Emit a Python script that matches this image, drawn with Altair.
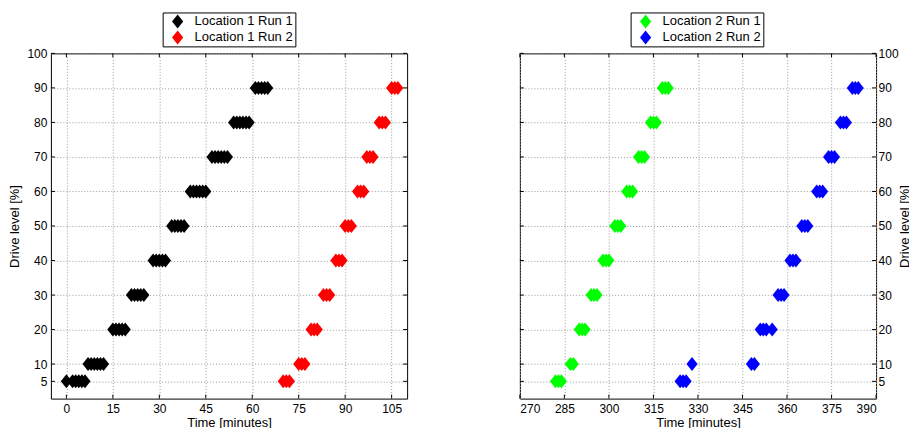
import altair as alt
import pandas as pd

LEVELS = [5, 10, 20, 30, 40, 50, 60, 70, 80, 90]
Y_TICKS = [5, 10, 20, 30, 40, 50, 60, 70, 80, 90, 100]
X_TICKS_LEFT = [0, 15, 30, 45, 60, 75, 90, 105]
X_TICKS_RIGHT = [270, 285, 300, 315, 330, 345, 360, 375, 390]

# Times (minutes) at which each drive level was logged, one list per level
LOC1_RUN1 = [
    [0, 2, 3, 4, 5, 6],
    [7, 8, 9, 10, 11, 12],
    [15, 16, 17, 18, 19],
    [21, 22, 23, 24, 25],
    [28, 29, 30, 31, 32],
    [34, 35, 36, 37, 38],
    [40, 41, 42, 43, 44, 45],
    [47, 48, 49, 50, 51, 52],
    [54, 55, 56, 57, 58, 59],
    [61, 62, 63, 64, 65],
]
LOC1_RUN2 = [
    [70, 71, 72],
    [75, 76, 77],
    [79, 80, 81],
    [83, 84, 85],
    [87, 88, 89],
    [90, 91, 92],
    [94, 95, 96],
    [97, 98, 99],
    [101, 102, 103],
    [105, 106, 107],
]
LOC2_RUN1 = [
    [282, 283, 284],
    [287, 288],
    [290, 291, 292],
    [294, 295, 296],
    [298, 299, 300],
    [302, 303, 304],
    [306, 307, 308],
    [310, 311, 312],
    [314, 315, 316],
    [318, 319, 320],
]
LOC2_RUN2 = [
    [324, 325, 326],
    [328, 348, 349],
    [351, 352, 353, 355],
    [357, 358, 359],
    [361, 362, 363],
    [365, 366, 367],
    [370, 371, 372],
    [374, 375, 376],
    [378, 379, 380],
    [382, 383, 384],
]

NAMES_1 = ["Location 1 Run 1", "Location 1 Run 2"]
NAMES_2 = ["Location 2 Run 1", "Location 2 Run 2"]
COLORS_1 = ["#000000", "#ff0000"]
COLORS_2 = ["#00ff00", "#0000ff"]

FONT = "Liberation Sans"
DIAMOND = "M-0.8,0L0,-1L0.8,0L0,1Z"
W, H = 357, 346
TICK = 4


def to_rows(series_name, times_by_level):
    rows = []
    for lvl, times in zip(LEVELS, times_by_level):
        for t in times:
            rows.append({"series": series_name, "time": t, "level": lvl})
    return rows


df1 = pd.DataFrame(to_rows(NAMES_1[0], LOC1_RUN1) + to_rows(NAMES_1[1], LOC1_RUN2))
df2 = pd.DataFrame(to_rows(NAMES_2[0], LOC2_RUN1) + to_rows(NAMES_2[1], LOC2_RUN2))


def panel(df, names, colors, xdom, xticks, yorient, legend_x):
    xscale = alt.Scale(domain=xdom, nice=False, zero=False)
    yscale = alt.Scale(domain=[0, 100], nice=False, zero=False)
    yaxis_kw = dict(
        values=Y_TICKS, orient=yorient, title="Drive level [%]", grid=True,
        ticks=False, tickSize=0, domain=False,
        labelPadding=4 if yorient == "left" else 2,
        titlePadding=5 if yorient == "left" else 0,
    )
    if yorient == "right":
        yaxis_kw["titleAngle"] = 270
        yaxis_kw["titleBaseline"] = "top"
    xaxis = alt.Axis(values=xticks, title="Time [minutes]", grid=True, ticks=False,
                     tickSize=0, domain=False, labelPadding=5, titlePadding=2, format="d")
    yaxis = alt.Axis(**yaxis_kw)
    pts = alt.Chart(df).mark_point(
        filled=True, shape=DIAMOND, size=196, opacity=1, strokeWidth=0
    ).encode(
        x=alt.X("time:Q", scale=xscale, axis=xaxis),
        y=alt.Y("level:Q", scale=yscale, axis=yaxis),
        color=alt.Color("series:N", scale=alt.Scale(domain=names, range=colors),
                        legend=alt.Legend(
                            title=None, orient="none", legendX=legend_x, legendY=-41,
                            direction="vertical", symbolType=DIAMOND, symbolSize=196,
                            labelFont=FONT, labelFontSize=13, labelColor="black",
                            strokeColor="black", fillColor="white", padding=2,
                            rowPadding=2, symbolOffset=6, labelOffset=10,
                            symbolStrokeWidth=0)),
    )
    xt = pd.DataFrame({"time": xticks})
    yt = pd.DataFrame({"level": Y_TICKS})
    xb = alt.Chart(xt).mark_rule(color="black").encode(
        x=alt.X("time:Q", scale=xscale, axis=xaxis), y=alt.value(H), y2=alt.value(H - TICK))
    xtop = alt.Chart(xt).mark_rule(color="black").encode(
        x=alt.X("time:Q", scale=xscale, axis=xaxis), y=alt.value(0), y2=alt.value(TICK))
    yl = alt.Chart(yt).mark_rule(color="black").encode(
        y=alt.Y("level:Q", scale=yscale, axis=yaxis), x=alt.value(0), x2=alt.value(TICK))
    yr = alt.Chart(yt).mark_rule(color="black").encode(
        y=alt.Y("level:Q", scale=yscale, axis=yaxis), x=alt.value(W - TICK), x2=alt.value(W))
    return alt.layer(pts, xb, xtop, yl, yr).properties(width=W, height=H)


left = panel(df1, NAMES_1, COLORS_1, [-5, 110], X_TICKS_LEFT, "left", 112)
right = panel(df2, NAMES_2, COLORS_2, [270, 390], X_TICKS_RIGHT, "right", 111)

chart = alt.hconcat(left, right, spacing=113, bounds="flush").resolve_scale(
    color="independent"
).resolve_legend(color="independent").properties(
    padding={"left": 0, "top": 3, "right": -3, "bottom": 0}
).configure_view(
    stroke="black", strokeWidth=1
).configure_axis(
    labelFont=FONT, labelFontSize=12, labelColor="black",
    titleFont=FONT, titleFontSize=13, titleFontWeight="normal", titleColor="black",
    gridColor="#9a9a9a", gridDash=[1, 2], gridWidth=1,
)

chart.save("out.html", embed_options={"renderer": "svg", "actions": False})
